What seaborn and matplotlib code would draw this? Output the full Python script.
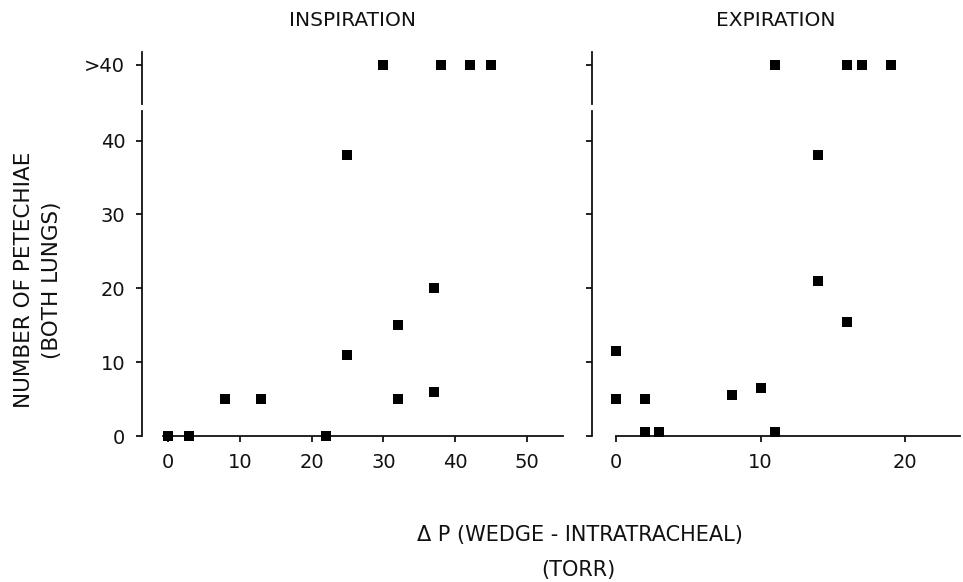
import numpy as np
import pandas as pd
import matplotlib
matplotlib.use("Agg")
import matplotlib.pyplot as plt
import seaborn as sns

# data
insp_x = [0, 3, 8, 13, 22, 25, 25, 32, 32, 37, 37]
insp_y = [0, 0, 5, 5, 0, 38, 11, 5, 15, 20, 6]
insp_over_x = [30, 38, 42, 45]          # points plotted as ">40"

exp_x = [0, 0, 2, 2, 3, 8, 10, 11, 14, 14, 16]
exp_y = [11.5, 5, 5, 0.5, 0.5, 5.5, 6.5, 0.5, 38, 21, 15.5]
exp_over_x = [11, 16, 17, 19]

OVER = 1  # y position for the ">40" strip

sns.set_style("ticks")
plt.rcParams['font.family'] = ['DejaVu Sans']
plt.rcParams['text.color'] = '#111111'

fig = plt.figure(figsize=(9.63, 5.82), dpi=100, facecolor='white')

W, H = 963.0, 582.0
def box(x0, x1, y0, y1):
    # pixel box -> figure fraction [left, bottom, width, height]
    return [x0 / W, 1 - y1 / H, (x1 - x0) / W, (y1 - y0) / H]

lw = 1.3
tick_kw = dict(direction='out', length=4, width=lw, labelsize=14, colors='#111111')

panels = [
    dict(x=insp_x, y=insp_y, over=insp_over_x, left=142, right=563,
         xlim=(-3.6, 55.0), xstart=-0.7, xticks=[0, 10, 20, 30, 40, 50],
         labels=True, title='INSPIRATION'),
    dict(x=exp_x, y=exp_y, over=exp_over_x, left=592, right=960,
         xlim=(-1.66, 23.8), xstart=0, xticks=[0, 10, 20],
         labels=False, title='EXPIRATION'),
]

for p in panels:
    ax = fig.add_axes(box(p['left'], p['right'], 111, 436))
    ax_top = fig.add_axes(box(p['left'], p['right'], 52, 104))

    df = pd.DataFrame({'dp': p['x'], 'n': p['y']})
    sns.scatterplot(data=df, x='dp', y='n', ax=ax, marker='s', s=52,
                    color='black', edgecolor='none', clip_on=False, zorder=5)
    df_top = pd.DataFrame({'dp': p['over'], 'n': [OVER] * len(p['over'])})
    sns.scatterplot(data=df_top, x='dp', y='n', ax=ax_top, marker='s', s=52,
                    color='black', edgecolor='none', clip_on=False, zorder=5)

    # lower part 0-40
    ax.set_xlim(*p['xlim'])
    ax.set_ylim(0, 44)
    ax.set_xticks(p['xticks'])
    ax.set_yticks([0, 10, 20, 30, 40])
    if not p['labels']:
        ax.set_yticklabels([])
    ax.spines['top'].set_visible(False)
    ax.spines['right'].set_visible(False)
    ax.spines['left'].set_bounds(0, 44)
    ax.spines['bottom'].set_bounds(p['xstart'], p['xlim'][1])
    for s in ['left', 'bottom']:
        ax.spines[s].set_linewidth(lw)
        ax.spines[s].set_color('#111111')
    ax.tick_params(axis='both', pad=8, **tick_kw)
    ax.set_xlabel('')
    ax.set_ylabel('')
    ax.set_facecolor('none')

    # upper ">40" strip
    ax_top.set_xlim(*p['xlim'])
    ax_top.set_ylim(0, 1.33)
    ax_top.set_xticks([])
    ax_top.set_yticks([OVER])
    ax_top.set_yticklabels(['>40'] if p['labels'] else [''])
    for s in ['top', 'right', 'bottom']:
        ax_top.spines[s].set_visible(False)
    ax_top.spines['left'].set_linewidth(lw)
    ax_top.spines['left'].set_color('#111111')
    ax_top.tick_params(axis='y', pad=8, **tick_kw)
    ax_top.set_xlabel('')
    ax_top.set_ylabel('')
    ax_top.set_facecolor('none')

    fig.text((p['left'] + p['right']) / 2 / W, 1 - 20 / H, p['title'],
             ha='center', va='center', fontsize=14.5)

# axis labels shared by both panels
fig.text(38 / W, 1 - 280 / H, 'NUMBER OF PETECHIAE\n(BOTH LUNGS)',
         rotation=90, ha='center', va='center', fontsize=15.5, linespacing=1.45)
fig.text(580 / W, 1 - 535 / H, '\u0394 P (WEDGE - INTRATRACHEAL)',
         ha='center', va='center', fontsize=15)
fig.text(578 / W, 1 - 570 / H, '(TORR)', ha='center', va='center', fontsize=15)

plt.savefig('out.png', dpi=100, facecolor='white')
